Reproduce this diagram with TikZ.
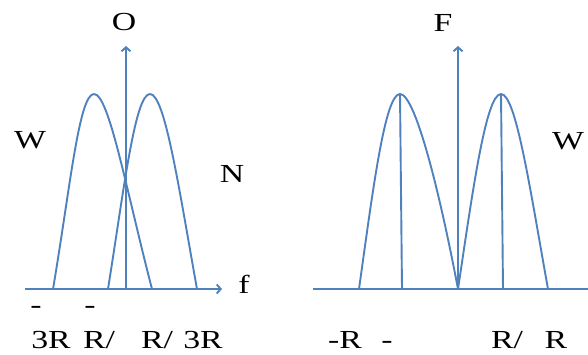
\documentclass[tikz,border=0pt]{standalone}
\usepackage{fontspec}
\setmainfont{Liberation Serif}
\usepackage{graphicx}
\usetikzlibrary{arrows.meta}
\definecolor{lineblue}{RGB}{79,129,189}
\newcommand{\wide}[1]{\scalebox{1.3}[1]{#1}}
\tikzset{lbl/.style={font=\fontsize{26}{30}\selectfont, inner sep=0pt, anchor=base}}

\begin{document}
\begin{tikzpicture}[x=1pt,y=-1pt]
\useasboundingbox (0,0) rectangle (588,354);
\begin{scope}[>={Straight Barb[length=4pt,width=9pt]}, lineblue, line width=1.9pt]

% left panel
\coordinate (fA) at (25,289);
\coordinate (fB) at (222,289);
\coordinate (oA) at (126,289);
\coordinate (oB) at (126,46);

\coordinate (L1) at (53,289);
\coordinate (P1) at (94,94);
\coordinate (R1) at (152,289);
\coordinate (L2) at (108,289);
\coordinate (P2) at (150,94);
\coordinate (R2) at (197,289);

\draw [->] (fA)--(fB);
\draw [->] (oA)--(oB);

\draw (L1) .. controls (70,189) and (79,94) .. (P1)
           .. controls (109,94) and (126,189) .. (R1);
\draw (L2) .. controls (124,189) and (135,94) .. (P2)
           .. controls (165,94) and (179,189) .. (R2);

% right panel
\coordinate (gA) at (313,289);
\coordinate (gB) at (588,289);
\coordinate (FA) at (458,289);
\coordinate (FB) at (458,46);

\coordinate (L3) at (359,289);
\coordinate (P3) at (400,94);
\coordinate (M3) at (402,289);
\coordinate (P4) at (501,94);
\coordinate (M4) at (503,289);
\coordinate (R4) at (548,289);

\draw (gA)--(gB);
\draw [->] (FA)--(FB);

\draw (L3) .. controls (373,189) and (385,94) .. (P3)
           .. controls (415,94) and (439,189) .. (FA);
\draw (FA) .. controls (473,189) and (486,94) .. (P4)
           .. controls (516,94) and (530,189) .. (R4);
\draw (P3)--(M3) (P4)--(M4);

\end{scope}

\node [lbl] (tO) at (124,30) {\wide{O}};
\node [lbl] (tW1) at (30,148) {\wide{W}};
\node [lbl] (tN) at (232,182) {\wide{N}};
\node [lbl] (tf) at (244,293) {\wide{f}};
\node [lbl] (m1) at (36,313.5) {\wide{-}};
\node [lbl] (m2) at (90,313.5) {\wide{-}};
\node [lbl] (a1) at (51,348) {\wide{3R}};
\node [lbl] (a2) at (99,348) {\wide{R/}};
\node [lbl] (a3) at (157,348) {\wide{R/}};
\node [lbl] (a4) at (203,348) {\wide{3R}};

\node [lbl] (tF) at (443,31) {\wide{F}};
\node [lbl] (tW2) at (568,149) {\wide{W}};
\node [lbl] (b1) at (345,348) {\wide{-R}};
\node [lbl] (b2) at (387,348) {\wide{-}};
\node [lbl] (b3) at (507,348) {\wide{R/}};
\node [lbl] (b4) at (556,348) {\wide{R}};
\end{tikzpicture}
\end{document}
